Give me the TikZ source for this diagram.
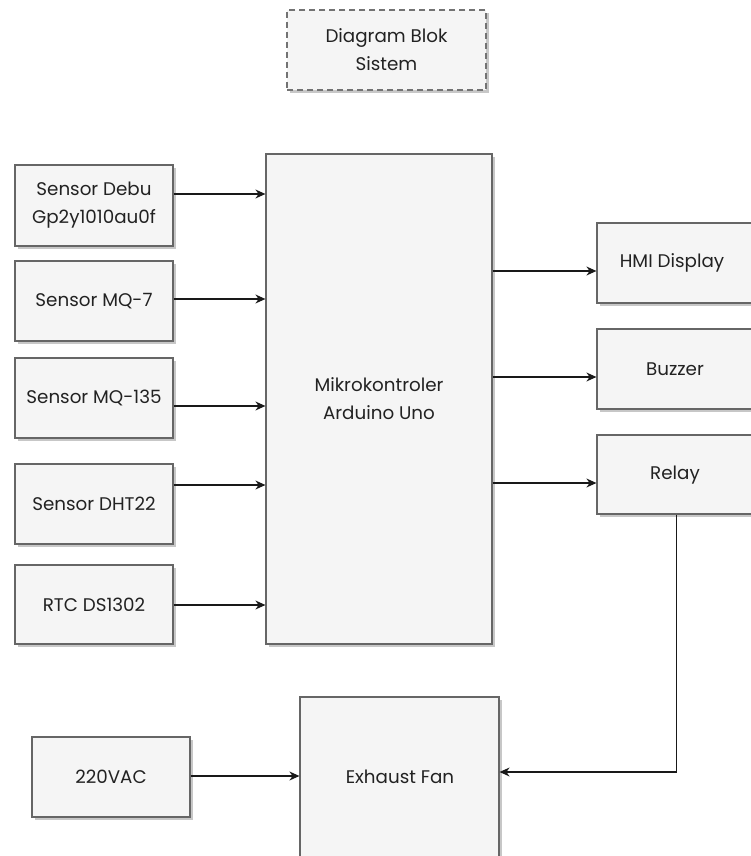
\documentclass[tikz,border=0pt]{standalone}
\usepackage{fontspec}
\setmainfont{Poppins}
\usetikzlibrary{arrows.meta,shadows}
\definecolor{boxfill}{HTML}{F5F5F5}
\definecolor{boxline}{HTML}{666666}
\definecolor{txt}{HTML}{222222}
\tikzset{
  blk/.style={draw=boxline, line width=1.2pt, fill=boxfill, rectangle, inner sep=0pt,
    drop shadow={shadow xshift=3pt, shadow yshift=-3pt, fill=black!22, opacity=1},
    text=txt, align=center, font=\fontsize{18.3}{28}\selectfont},
  lbl/.style={text=txt, inner sep=0pt, font=\fontsize{18.3}{28}\selectfont, align=center},
  arr/.style={draw=black!90, line width=1.3pt, -{Stealth[length=10pt,width=9pt]}},
}
\begin{document}
\begin{tikzpicture}[x=1pt,y=-1pt]
\useasboundingbox (0,0) rectangle (750,856);
% title
\node[blk, draw=black!55, dash pattern=on 6pt off 4pt, minimum width=199pt, minimum height=80pt] (title) at (386.5,50) {Diagram Blok\\Sistem};
% sensors
\node[blk, minimum width=158pt, minimum height=81pt] (debu) at (94,205.5) {Sensor Debu\\Gp2y1010au0f};
\node[blk, minimum width=158pt, minimum height=80pt] (mq7) at (94,301) {Sensor MQ-7};
\node[blk, minimum width=158pt, minimum height=80pt] (mq135) at (94,398) {Sensor MQ-135};
\node[blk, minimum width=158pt, minimum height=80pt] (dht) at (94,504) {Sensor DHT22};
\node[blk, minimum width=158pt, minimum height=79pt] (rtc) at (94,604.5) {RTC DS1302};
% MCU
\node[blk, minimum width=226pt, minimum height=490pt] (mikro) at (379,399) {Mikrokontroler\\Arduino Uno};
% outputs
\node[blk, minimum width=163pt, minimum height=80pt] (hmi) at (678.5,263) {};
\node[lbl] (hmit) at (672,263) {HMI Display};
\node[blk, minimum width=163pt, minimum height=80pt] (buzzer) at (678.5,369) {};
\node[lbl] (buzzert) at (675,369) {Buzzer};
\node[blk, minimum width=163pt, minimum height=79pt] (relay) at (678.5,474.5) {};
\node[lbl] (relayt) at (675,475) {Relay};
% power
\node[blk, minimum width=158pt, minimum height=80pt] (ac) at (111,777) {220VAC};
\node[blk, minimum width=199pt, minimum height=175pt] (fan) at (399.5,784.5) {};
\node[lbl] (fant) at (400,777) {Exhaust Fan};
% connectors
\draw[arr] (debu.east |- 0,194) -- (mikro.west |- 0,194);
\draw[arr] (mq7.east |- 0,299) -- (mikro.west |- 0,299);
\draw[arr] (mq135.east |- 0,406) -- (mikro.west |- 0,406);
\draw[arr] (dht.east |- 0,485) -- (mikro.west |- 0,485);
\draw[arr] (rtc.east |- 0,605) -- (mikro.west |- 0,605);
\draw[arr] (mikro.east |- 0,271) -- (hmi.west |- 0,271);
\draw[arr] (mikro.east |- 0,377) -- (buzzer.west |- 0,377);
\draw[arr] (mikro.east |- 0,483) -- (relay.west |- 0,483);
\draw[arr] (relay.south -| 676.5,0) |- (fan.east |- 0,772);
\draw[arr] (ac.east |- 0,776) -- (fan.west |- 0,776);
\end{tikzpicture}
\end{document}
